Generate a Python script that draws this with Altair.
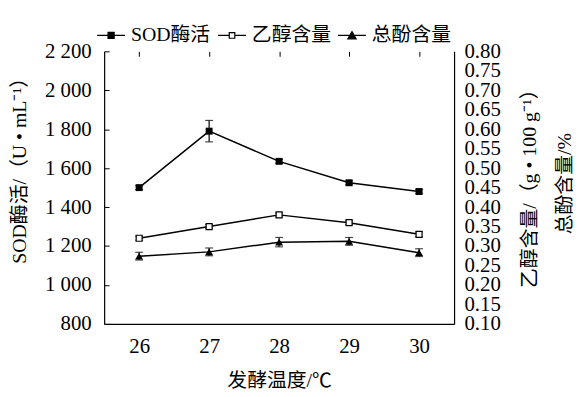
import altair as alt
import pandas as pd

temps = [26, 27, 28, 29, 30]
sod = [1500, 1790, 1635, 1525, 1480]
sod_err = [10, 55, 10, 10, 10]
ethanol = [0.32, 0.35, 0.38, 0.36, 0.33]
ethanol_err = [0.005, 0.005, 0.005, 0.005, 0.006]
phenol = [0.274, 0.285, 0.31, 0.312, 0.283]
phenol_err = [0.01, 0.01, 0.012, 0.01, 0.01]
series_names = ["SOD酶活", "乙醇含量", "总酚含量"]
left_ticks = [800, 1000, 1200, 1400, 1600, 1800, 2000, 2200]
right_ticks = [0.10, 0.15, 0.20, 0.25, 0.30, 0.35, 0.40, 0.45,
               0.50, 0.55, 0.60, 0.65, 0.70, 0.75, 0.80]

LATIN = "Times New Roman, Liberation Serif, DejaVu Serif, serif"
FONT = "Times New Roman, Liberation Serif, Noto Sans CJK SC, serif"
FS = 21
TFS = 20


def frame(vals, errs):
    return pd.DataFrame({
        "t": temps,
        "v": vals,
        "lo": [v - e for v, e in zip(vals, errs)],
        "hi": [v + e for v, e in zip(vals, errs)],
    })


df_sod = frame(sod, sod_err)
df_eth = frame(ethanol, ethanol_err)
df_phe = frame(phenol, phenol_err)

x_enc = alt.X("t:Q", scale=alt.Scale(domain=[25.5, 30.5], nice=False, zero=False),
              axis=alt.Axis(values=temps, format="d", title="发酵温度/℃",
                            labelPadding=12, titleBaseline="top", titleY=47,
                            labelFlush=False))

left_title = "SOD酶活/（U • mL⁻¹）"
left_axis = alt.Axis(values=left_ticks, orient="left", title=left_title,
                     labelExpr="replace(format(datum.value, ','), ',', ' ')",
                     labelPadding=13, labelOverlap=False,
                     titleAngle=270, titleAlign="center", titleBaseline="top",
                     titleX=-95, titleY=115)
left_scale = alt.Scale(domain=[800, 2200], nice=False, zero=False)

right_title = ["乙醇含量/（g • 100 g⁻¹）", "总酚含量/%"]
right_axis = alt.Axis(values=right_ticks, orient="right", title=right_title,
                      format=".2f", labelPadding=10, labelOverlap=False,
                      titleAngle=270, titleAlign="center", titleBaseline="top",
                      titleX=66, titleY=133, titleLineHeight=35)
right_scale = alt.Scale(domain=[0.1, 0.8], nice=False, zero=False)


def series_layers(df, scale, axis, title, point_kwargs):
    y = alt.Y("v:Q", scale=scale, axis=axis, title=title)
    base = alt.Chart(df)
    line = base.mark_line(color="black", strokeWidth=1.5).encode(x=x_enc, y=y)
    err = base.mark_errorbar(color="black", thickness=1.2,
                             ticks={"size": 8}).encode(
        x=x_enc,
        y=alt.Y("lo:Q", scale=scale, axis=axis, title=title),
        y2="hi:Q")
    pts = base.mark_point(**point_kwargs).encode(x=x_enc, y=y)
    return [line, err, pts]


left = alt.layer(*series_layers(
    df_sod, left_scale, left_axis, left_title,
    dict(shape="square", size=49, filled=True, color="black", opacity=1)))

right = alt.layer(
    *series_layers(df_eth, right_scale, right_axis, right_title,
                   dict(shape="square", size=36, filled=False, fill="white",
                        stroke="black", strokeWidth=1.2, opacity=1)),
    *series_layers(df_phe, right_scale, right_axis, right_title,
                   dict(shape="triangle-up", size=64, filled=True,
                        color="black", opacity=1)),
)

legend_paths = [
    "M-1,0H1M-0.22,-0.22H0.22V0.22H-0.22Z",
    "M-1,0H-0.2M0.2,0H1M-0.2,-0.2H0.2V0.2H-0.2Z",
    "M-1,0H1M0,-0.28L0.3,0.24H-0.3Z",
]
leg = alt.Legend(title=None, orient="none", legendX=-8, legendY=-31,
                 direction="horizontal", symbolSize=784, labelFont=FONT,
                 labelFontSize=TFS, labelColor="black", columnPadding=4,
                 labelOffset=5, symbolStrokeWidth=1.2, symbolOpacity=1)
legend_df = pd.DataFrame({"s": series_names})
legend_layer = alt.Chart(legend_df).mark_point(
    strokeWidth=1.2, opacity=1).encode(
    shape=alt.Shape("s:N", scale=alt.Scale(domain=series_names, range=legend_paths),
                    legend=leg),
    fill=alt.Fill("s:N", scale=alt.Scale(domain=series_names,
                                         range=["black", "white", "black"]),
                  legend=leg),
    stroke=alt.Stroke("s:N", scale=alt.Scale(domain=series_names,
                                             range=["black", "black", "black"]),
                      legend=leg),
).transform_filter("false")

chart = alt.layer(left, right, legend_layer).resolve_scale(
    y="independent"
).properties(
    width=353, height=275,
    autosize=alt.AutoSizeParams(type="none"),
    padding={"left": 97, "top": 42, "right": 122, "bottom": 70},
    background="white",
).configure_axis(
    grid=True, gridDash=[5, 3000], gridColor="black", gridOpacity=1,
    gridWidth=1, ticks=False, tickSize=0, domainColor="black", domainWidth=1.2,
    labelFont=LATIN, labelFontSize=FS, labelColor="black",
    titleFont=FONT, titleFontSize=TFS, titleFontWeight="normal",
    titleColor="black", labelBound=False,
).configure_view(stroke=None)

chart.save("out.html", embed_options={"renderer": "svg", "actions": False})
